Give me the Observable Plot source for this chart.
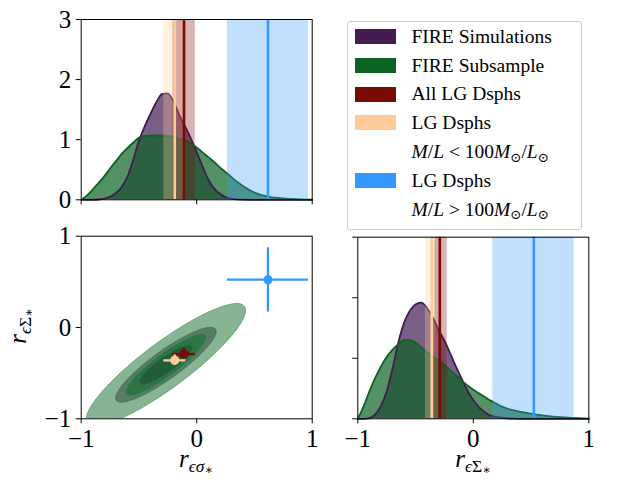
<!DOCTYPE html>
<html>
<head>
<meta charset="utf-8">
<script src="https://cdn.jsdelivr.net/npm/d3@7"></script>
<script src="https://cdn.jsdelivr.net/npm/@observablehq/plot@0.6"></script>
<style>
  html, body { margin: 0; padding: 0; background: #ffffff; }
  #fig { position: relative; width: 640px; height: 480px; overflow: hidden; background: #ffffff; }
  .panel { position: absolute; }
  .panel svg { display: block; }
  .panel svg text { font-family: "Liberation Serif", "DejaVu Serif", serif; }
  .txt { position: absolute; font-family: "Liberation Serif", "DejaVu Serif", serif; color: #000; white-space: nowrap; }
  .axlabel { font-size: 25px; line-height: 25px; }
  .legtxt { font-size: 19.5px; line-height: 20px; }
  .sub1 { font-size: 70%; position: relative; top: 0.3em; }
  .sub2 { font-size: 72%; position: relative; top: 0.12em; }
  .legsub { font-size: 68%; position: relative; top: 0.28em; }
  #legbox { position: absolute; left: 347px; top: 20.5px; width: 235px; height: 209.5px; box-sizing: border-box;
            border: 1px solid #cccccc; border-radius: 3px; background: rgba(255,255,255,0.8); }
  .patch { position: absolute; width: 40.7px; height: 15px; }
</style>
</head>
<body>
<div id="fig"></div>
<script>
// ---------------- data ----------------
const kdeGrid = [-1.00,-0.95,-0.90,-0.85,-0.80,-0.75,-0.70,-0.65,-0.60,-0.55,-0.50,-0.45,-0.40,-0.35,-0.30,-0.25,-0.20,-0.15,-0.10,-0.05,
                 0.00,0.05,0.10,0.15,0.20,0.25,0.30,0.35,0.40,0.45,0.50,0.55,0.60,0.65,0.70,0.75,0.80,0.85,0.90,0.95,1.00];
// density of r_{eps sigma*}
const simSigmaDensity = [0,0,0.001,0.005,0.02,0.05,0.11,0.21,0.38,0.66,0.98,1.22,1.43,1.62,1.76,1.77,1.63,1.41,1.22,1.02,
                         0.79,0.56,0.34,0.19,0.10,0.045,0.02,0.007,0.002,0,0,0,0,0,0,0,0,0,0,0,0];
const subSigmaDensity = [0.0,0.07,0.17,0.28,0.39,0.52,0.64,0.76,0.86,0.95,1.03,1.06,1.07,1.07,1.07,1.06,1.05,1.02,0.99,0.94,
                         0.87,0.79,0.71,0.63,0.54,0.46,0.38,0.30,0.23,0.17,0.12,0.085,0.06,0.042,0.03,0.022,0.016,0.011,0.007,0.004,0.002];
// density of r_{eps Sigma*}
const simSurfDensity = [0,0,0.01,0.07,0.21,0.45,0.82,1.25,1.58,1.78,1.89,1.92,1.83,1.67,1.47,1.29,1.08,0.86,0.66,0.46,
                        0.31,0.19,0.11,0.055,0.03,0.017,0.008,0.003,0,0,0,0,0,0,0,0,0,0,0,0,0];
const subSurfDensity = [0.0,0.2,0.45,0.67,0.86,1.02,1.14,1.23,1.30,1.30,1.26,1.18,1.10,1.03,0.96,0.89,0.80,0.72,0.63,0.55,
                        0.48,0.42,0.36,0.30,0.25,0.20,0.165,0.14,0.12,0.10,0.085,0.07,0.055,0.045,0.035,0.028,0.022,0.016,0.011,0.006,0.003];

// observed groups: best value and 1-sigma range for each correlation
const groupNames = ["LG Dsphs M/L<100", "All LG Dsphs", "LG Dsphs M/L>100"];
const sigmaBest = [-0.19, -0.11, 0.617];
const sigmaLow  = [-0.285, -0.205, 0.266];
const sigmaHigh = [-0.095, -0.012, 0.967];
const surfBest  = [-0.36, -0.29, 0.524];
const surfLow   = [-0.414, -0.333, 0.169];
const surfHigh  = [-0.30, -0.226, 0.873];

// 2D contour levels of the FIRE subsample (covariance ellipses)
const contourCx = -0.267, contourCy = -0.408, contourRho = 0.89;
const levelRx = [0.69, 0.435, 0.35, 0.224];
const levelRy = [0.67, 0.41, 0.34, 0.21];

// ticks
const corrTicks = [-1, 0, 1];
const densTicks = [0, 1, 2, 3];

// legend labels
const legendLabels = ["FIRE Simulations", "FIRE Subsample", "All LG Dsphs", "LG Dsphs", "LG Dsphs"];

// ---------------- styles ----------------
const simColor = "#421c52";
const subColor = "#0c6423";
const groupColors = ["#ffcc99", "#7a0a05", "#3399ff"];
const levelFill = ["#86b593", "#587b65", "#2e7545", "#235d38"];
const levelStroke = ["#6ba47c", "#4e705a", "#3f8c56", "#235d38"];
const serif = '"Liberation Serif", "DejaVu Serif", serif';
const fontStyle = {fontFamily: serif, fontSize: "25px", background: "transparent", overflow: "visible"};
const intFmt = d3.format("d");
const noLabel = () => "";

// ---------------- build ----------------
const fig = document.getElementById("fig");
function place(node, left, top) {
  const d = document.createElement("div");
  d.className = "panel";
  d.style.left = left + "px";
  d.style.top = top + "px";
  d.appendChild(node);
  fig.appendChild(d);
}
const groups = groupNames.map((name, i) => ({
  name, sx: sigmaBest[i], slo: sigmaLow[i], shi: sigmaHigh[i],
  yx: surfBest[i], ylo: surfLow[i], yhi: surfHigh[i]
}));
const rowsOf = ys => kdeGrid.map((x, i) => ({x, y: ys[i]}));

function kdeMarks(simY, subY, mid, lo, hi) {
  const sim = rowsOf(simY), sub = rowsOf(subY);
  const bands = groups.map(g => ({name: g.name, mid: g[mid], lo: g[lo], hi: g[hi]}));
  return [
    Plot.areaY(sim, {x: "x", y: "y", fill: simColor, fillOpacity: 0.7, curve: "monotone-x"}),
    Plot.areaY(sub, {x: "x", y: "y", fill: subColor, fillOpacity: 0.7, curve: "monotone-x"}),
    Plot.lineY(sim, {x: "x", y: "y", stroke: simColor, strokeWidth: 1.8, curve: "monotone-x"}),
    Plot.lineY(sub, {x: "x", y: "y", stroke: subColor, strokeWidth: 1.8, curve: "monotone-x"}),
    Plot.rect(bands, {x1: "lo", x2: "hi", fill: "name", fillOpacity: 0.3}),
    Plot.ruleX(bands, {x: "mid", stroke: "name", strokeWidth: 2.6})
  ];
}
const axisText = {fontFamily: serif, fontSize: 25};

// top-left: distribution of r_{eps sigma*}
place(Plot.plot({
  width: 330, height: 230,
  marginLeft: 80.7, marginRight: 18.3, marginTop: 19, marginBottom: 30.7,
  x: {domain: [-1, 1]}, y: {domain: [0, 3]},
  color: {domain: groupNames, range: groupColors},
  style: fontStyle,
  marks: [
    ...kdeMarks(simSigmaDensity, subSigmaDensity, "sx", "slo", "shi"),
    Plot.frame({stroke: "#000", strokeWidth: 1}),
    Plot.axisX({ticks: corrTicks, tickSize: 5, tickFormat: noLabel, label: null}),
    Plot.axisY({ticks: densTicks, tickSize: 5, tickPadding: 5, tickFormat: intFmt, label: null, ...axisText})
  ]
}), 0, 0);

// bottom-left: joint distribution
const levelRows = levelRx.map((rx, k) => {
  const ry = levelRy[k], s = Math.sqrt(1 - contourRho * contourRho), rows = [];
  for (let j = 0; j < 200; j++) {
    const t = 2 * Math.PI * j / 200;
    rows.push({x: contourCx + rx * Math.cos(t), y: contourCy + ry * (contourRho * Math.cos(t) + s * Math.sin(t))});
  }
  return rows;
});
place(Plot.plot({
  width: 330, height: 260,
  marginLeft: 80.7, marginRight: 18.3, marginTop: 15.7, marginBottom: 61.7,
  x: {domain: [-1, 1]}, y: {domain: [-1, 1]},
  color: {domain: groupNames, range: groupColors},
  style: fontStyle,
  marks: [
    ...levelRows.map((rows, k) => Plot.line(rows, {x: "x", y: "y", fill: levelFill[k], stroke: levelStroke[k], strokeWidth: 1, curve: "linear-closed", clip: true})),
    Plot.ruleY(groups, {y: "yx", x1: "slo", x2: "shi", stroke: "name", strokeWidth: 2.3}),
    Plot.ruleX(groups, {x: "sx", y1: "ylo", y2: "yhi", stroke: "name", strokeWidth: 2.3}),
    Plot.dot(groups, {x: "sx", y: "yx", fill: "name", r: 4.6}),
    Plot.frame({stroke: "#000", strokeWidth: 1}),
    Plot.axisX({ticks: corrTicks, tickSize: 5, tickPadding: 5, tickFormat: intFmt, label: null, ...axisText}),
    Plot.axisY({ticks: corrTicks, tickSize: 5, tickPadding: 5, tickFormat: intFmt, label: null, ...axisText})
  ]
}), 0, 220);

// bottom-right: distribution of r_{eps Sigma*}
place(Plot.plot({
  width: 310, height: 260,
  marginLeft: 27.3, marginRight: 51.7, marginTop: 16.7, marginBottom: 61.7,
  x: {domain: [-1, 1]}, y: {domain: [0, 3]},
  color: {domain: groupNames, range: groupColors},
  style: fontStyle,
  marks: [
    ...kdeMarks(simSurfDensity, subSurfDensity, "yx", "ylo", "yhi"),
    Plot.frame({stroke: "#000", strokeWidth: 1}),
    Plot.axisX({ticks: corrTicks, tickSize: 5, tickPadding: 5, tickFormat: intFmt, label: null, ...axisText}),
    Plot.axisY({ticks: densTicks, tickSize: 5, tickFormat: noLabel, label: null})
  ]
}), 330, 220);

// axis labels
function addLabel(html, css) {
  const d = document.createElement("div");
  d.className = "txt axlabel";
  d.innerHTML = html;
  Object.assign(d.style, css);
  fig.appendChild(d);
}
addLabel('<i>r</i><span class="sub1"><i>ϵσ</i><span class="sub2">∗</span></span>',
         {left: "196px", top: "446px", transform: "translateX(-50%)"});
addLabel('<i>r</i><span class="sub1"><i>ϵ</i>Σ<span class="sub2">∗</span></span>',
         {left: "473px", top: "446px", transform: "translateX(-50%)"});
addLabel('<i>r</i><span class="sub1"><i>ϵ</i>Σ<span class="sub2">∗</span></span>',
         {left: "20px", top: "326px", transform: "translate(-50%,-50%) rotate(-90deg)"});

// legend
const box = document.createElement("div");
box.id = "legbox";
fig.appendChild(box);
const patchColors = [simColor, subColor, groupColors[1], groupColors[0], groupColors[2]];
const patchRows = [0, 1, 2, 3, 5];
const mathRows = [4, 6];
const rowBase = [43.3, 72.1, 100.9, 129.7, 158.5, 187.3, 216.1];
patchRows.forEach((r, i) => {
  const p = document.createElement("div");
  p.className = "patch";
  p.style.left = "355px";
  p.style.top = (rowBase[r] - 14.3) + "px";
  p.style.background = patchColors[i];
  fig.appendChild(p);
  const t = document.createElement("div");
  t.className = "txt legtxt";
  t.style.left = "411.5px";
  t.style.top = (rowBase[r] - 16.6) + "px";
  t.textContent = legendLabels[i];
  fig.appendChild(t);
});
const mathText = ['<i>M</i>/<i>L</i> &lt; 100<i>M</i><span class="legsub">⊙</span>/<i>L</i><span class="legsub">⊙</span>',
                  '<i>M</i>/<i>L</i> &gt; 100<i>M</i><span class="legsub">⊙</span>/<i>L</i><span class="legsub">⊙</span>'];
mathRows.forEach((r, i) => {
  const t = document.createElement("div");
  t.className = "txt legtxt";
  t.style.left = "411.5px";
  t.style.top = (rowBase[r] - 16.6) + "px";
  t.innerHTML = mathText[i];
  fig.appendChild(t);
});
</script>
</body>
</html>
